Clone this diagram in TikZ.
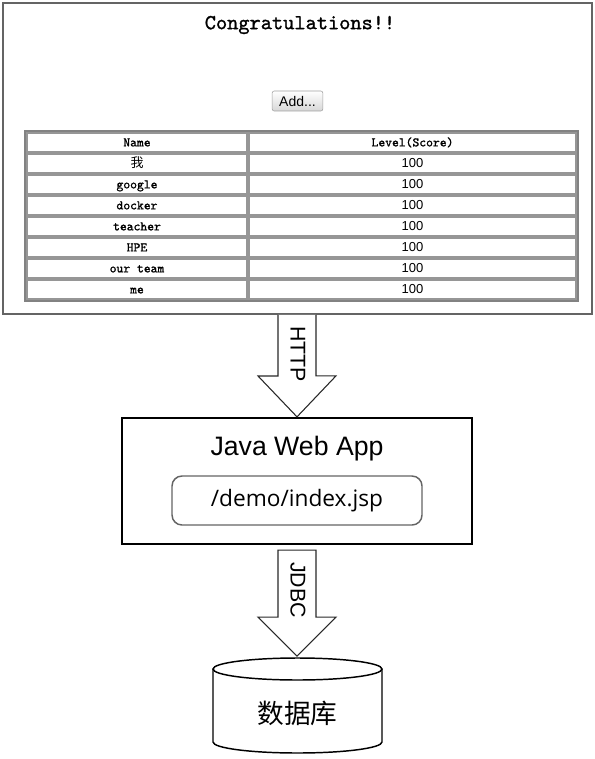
\documentclass[tikz,border=0pt]{standalone}
\usepackage{fontspec}
\setmainfont{Liberation Sans}
\newfontfamily\cjkfont{Noto Sans CJK SC}
\newfontfamily\jspfont{Open Sans}
\newfontfamily\webmono{lmmono10-regular.otf}[FakeBold=1.2]
\usetikzlibrary{positioning}

\begin{document}
\begin{tikzpicture}[x=0.75pt,y=0.75pt,yscale=-1,xscale=1,
  cell/.style={draw={rgb, 255:red, 150; green, 150; blue, 150 }, line width=0.8, inner sep=0pt, minimum height=14.25pt, text height=1.5ex, text depth=0.4ex, font=\webmono\fontsize{9.75}{11}\selectfont},
  scorecell/.style={cell, minimum width=245.25pt},
  namecell/.style={cell, minimum width=165pt},
  blockarrow/.style={draw={rgb, 255:red, 40; green, 40; blue, 40 }, line width=0.8, fill=white},
  arrowlabel/.style={rotate=-90, font=\fontsize{16}{19}\selectfont, inner sep=0.75pt}
]
\useasboundingbox (0,0) rectangle (595,759);

% browser page
\node [draw={rgb, 255:red, 100; green, 100; blue, 100 }, line width=1.5, minimum width=441.75pt, minimum height=233.6pt] (page) at (297,158.25) {};
\node [font=\webmono\fontsize{16}{19}\selectfont, inner sep=0.75pt] (title) at (300,25) {Congratulations!!};

% Add button
\node [draw={rgb, 255:red, 160; green, 160; blue, 160 }, top color=white, bottom color={rgb, 255:red, 215; green, 215; blue, 215 }, rounded corners=1.5pt, minimum width=38pt, minimum height=15pt, inner sep=0pt, font=\fontsize{10.5}{12}\selectfont] (add) at (297.5,101) {Add...};

% table
\draw [color={rgb, 255:red, 130; green, 130; blue, 130 }, line width=1] (25,131) rectangle (578,301);
\node [namecell] (name0) at (137,142.5) {Name};
\node [scorecell] (score0) at (412.5,142.5) {Level(Score)};
\foreach \nm [count=\i] in {{\cjkfont 我}, google, docker, teacher, HPE, our team, me} {
  \node [namecell] (name\i) at (137,{142.5+21*\i}) {\nm};
  \node [scorecell, font=\fontsize{9.75}{11}\selectfont] (score\i) at (412.5,{142.5+21*\i}) {100};
}

% web app
\node [draw, line width=1.7, minimum width=262.5pt, minimum height=94.5pt] (app) at (297,481) {};
\node [font=\fontsize{20}{24}\selectfont, inner sep=0.75pt] (appname) at (297,449) {Java Web App};
\node [draw={rgb, 255:red, 100; green, 100; blue, 100 }, line width=1.1, rounded corners=7.5pt, minimum width=187.5pt, minimum height=36.75pt, font=\jspfont\fontsize{17}{20}\selectfont] (jsp) at (297,500.5) {/demo/index.jsp};

% HTTP
\draw [blockarrow] (page.south) ++(-19,0) -- ++(0,61) -- ++(-20,0) -- (app.north) -- ++(39,-41) -- ++(-20,0) -- ++(0,-61);
\node [arrowlabel] (http) at (298,354) {HTTP};

% JDBC
\draw [blockarrow] (app.south) ++(-19,5) -- ++(0,67) -- ++(-20,0) -- ++(39,39) -- ++(39,-39) -- ++(-20,0) -- ++(0,-67) -- cycle;
\node [arrowlabel] (jdbc) at (298,590) {JDBC};

% database
\draw [line width=1.1] (297.5,669) ellipse [x radius=84.5, y radius=11];
\draw [line width=1.1] (213,669) -- (213,742) arc [start angle=180, end angle=0, x radius=84.5, y radius=11] -- (382,669);
\node [font=\cjkfont\fontsize{20}{24}\selectfont] (db) at (297.5,713) {数据库};

\end{tikzpicture}
\end{document}
